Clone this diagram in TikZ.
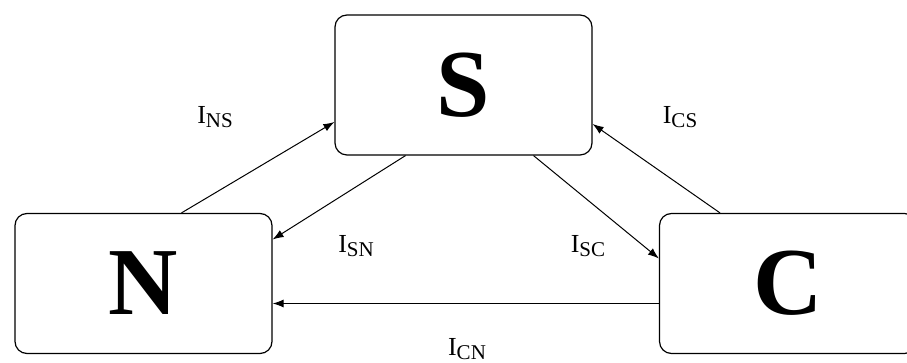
\documentclass[tikz,border=0pt]{standalone}
\usepackage{fontspec}
\setmainfont{Liberation Serif}
\usepackage{tikz}
\usetikzlibrary{calc,positioning,arrows.meta}

\newcommand{\flowlbl}[1]{I{\fontsize{21}{21}\selectfont\raisebox{-4pt}{#1}}}

\begin{document}
\begin{tikzpicture}[x=1pt, y=1pt,
  box/.style={draw, line width=1.2pt, rounded corners=12pt, minimum width=257pt, minimum height=140pt, inner sep=0pt, font=\fontsize{96}{96}\selectfont\bfseries},
  lbl/.style={font=\fontsize{26}{26}\selectfont, inner sep=1pt},
  flow/.style={line width=1pt, -{Latex[length=11pt, width=8pt]}}]
\useasboundingbox (0,0) rectangle (907,363);
%compartments
\node[box] (S) at (463.5,278) {S};
\node[box] (N) at (143.5,79.5) {N};
\node[box] (C) at (788,79.5) {C};

%flows
\draw[flow] ([xshift=38pt]N.north) -- ([yshift=-37pt]S.west);
\draw[flow] ([xshift=-58pt]S.south) -- ([yshift=44pt]N.east);
\draw[flow] ([xshift=70pt]S.south) -- ([yshift=25pt]C.west);
\draw[flow] ([xshift=-68pt]C.north) -- ([yshift=-39pt]S.east);
\draw[flow] ([yshift=-20pt]C.west) -- ([yshift=-20pt]N.east);

%labels
\node[lbl] (ns) at (215,246) {\flowlbl{NS}};
\node[lbl] (cs) at (680,246) {\flowlbl{CS}};
\node[lbl] (sn) at (356,117) {\flowlbl{SN}};
\node[lbl] (sc) at (588,117) {\flowlbl{SC}};
\node[lbl] (cn) at (467,14) {\flowlbl{CN}};
\end{tikzpicture}
\end{document}
